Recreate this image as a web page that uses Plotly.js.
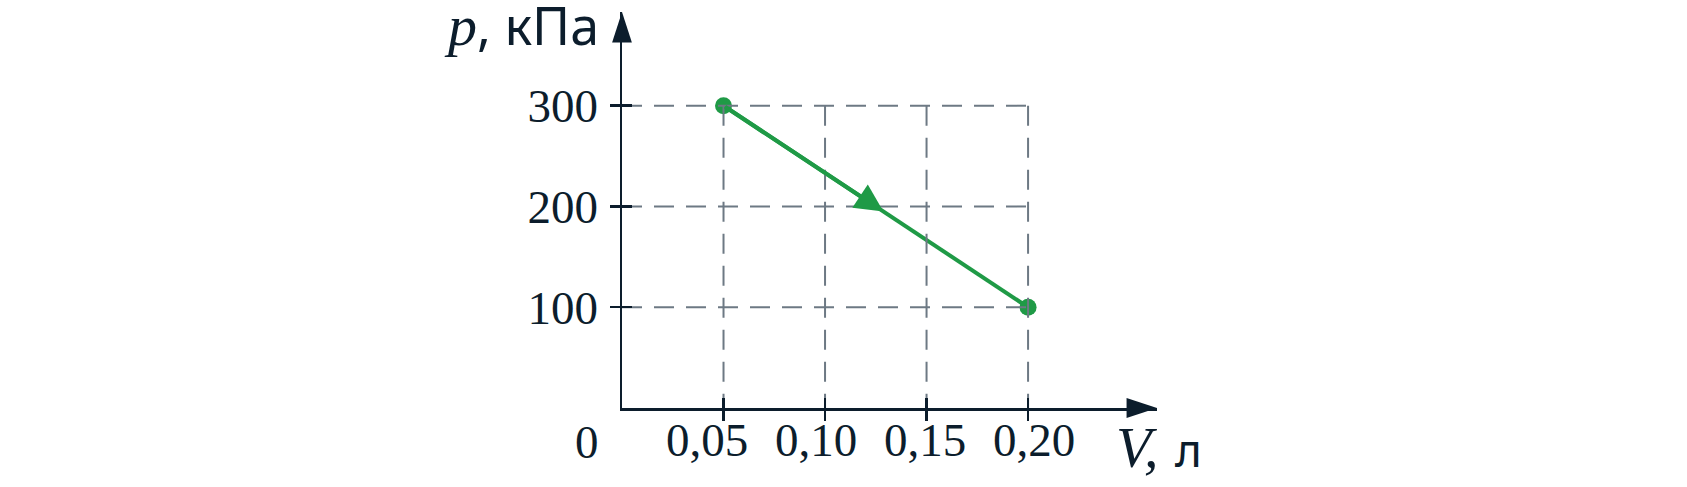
<!DOCTYPE html>
<html>
<head>
<meta charset="utf-8">
<script src="https://cdn.plot.ly/plotly-3.0.1.min.js"></script>
<style>html,body{margin:0;padding:0;background:#fff;}#chart{width:1687px;height:487px;}</style>
</head>
<body>
<div id="chart"></div>
<script>
// ---- data ----
const volume = [0.05, 0.20];          // V, л
const pressure = [300, 100];          // p, кПа
const xTicks = [0.05, 0.10, 0.15, 0.20];
const xTickLabels = ['0,05', '0,10', '0,15', '0,20'];
const yTicks = [100, 200, 300];
const yTickLabels = ['100', '200', '300'];
const originLabel = '0';
const xTitle = '<i>V,</i> л';
const yTitle = '<i>p</i>, кПа';

// ---- style ----
const dark = '#0c1d2c';
const gridColor = '#6d7984';
const green = '#1f9a46';
const serif = 'Liberation Serif, Times New Roman, serif';
const sans = 'Noto Sans, Open Sans, sans-serif';
const xMax = 0.2635, yMax = 393;
const labelRange = [0.011, 0.2564];   // tick labels are spread slightly wider than the ticks
const arrowAt = 0.525;

// grid lines built from tick arrays
const gx = [], gy = [];
const gxMax = Math.max(...xTicks), gyMax = Math.max(...yTicks);
yTicks.forEach(v => { gx.push(0, gxMax, null); gy.push(v, v, null); });
xTicks.forEach(v => { gx.push(v, v, null); gy.push(gyMax, 0, null); });

const traces = [
  {x: gx, y: gy, xaxis: 'x2', yaxis: 'y2', mode: 'lines', hoverinfo: 'skip',
   line: {color: gridColor, width: 2, dash: '20px,12px'}},
  {x: [xTicks[0]], y: [0], xaxis: 'x3', yaxis: 'y', mode: 'markers', hoverinfo: 'skip',
   marker: {opacity: 0}},
  {x: volume, y: pressure, mode: 'lines+markers', cliponaxis: false,
   line: {color: green, width: 4}, marker: {color: green, size: 17}},
  {x: [xMax, 0], y: [0, yMax], mode: 'markers', cliponaxis: false, hoverinfo: 'skip',
   marker: {symbol: 'arrow', angle: [90, 0], size: 32, color: dark}}
];

const tipX = volume[0] + arrowAt * (volume[1] - volume[0]);
const tipY = pressure[0] + arrowAt * (pressure[1] - pressure[0]);

const axBase = {showgrid: false, zeroline: false, fixedrange: true};
const tickFont = {family: serif, size: 47, color: dark};
const layout = {
  width: 1687, height: 487,
  margin: {l: 622, r: 530, t: 12, b: 79},
  paper_bgcolor: '#fff', plot_bgcolor: 'rgba(0,0,0,0)',
  showlegend: false,
  xaxis: Object.assign({}, axBase, {range: [0, xMax], showline: true, linecolor: dark, linewidth: 2.5,
    ticks: 'outside', ticklen: 10, tickwidth: 2.5, tickcolor: dark,
    tickvals: xTicks, showticklabels: false}),
  xaxis3: Object.assign({}, axBase, {range: labelRange, overlaying: 'x', anchor: 'y', side: 'bottom',
    showline: false, ticks: 'outside', ticklen: 10, tickwidth: 0, tickcolor: 'rgba(0,0,0,0)',
    tickvals: xTicks, ticktext: xTickLabels, ticklabelstandoff: -19, tickfont: tickFont}),
  yaxis: Object.assign({}, axBase, {range: [0, yMax], showline: true, linecolor: dark, linewidth: 2.5,
    ticks: 'outside', ticklen: 10, tickwidth: 2.5, tickcolor: dark,
    tickvals: yTicks, ticktext: yTickLabels, ticklabelstandoff: 2, tickfont: tickFont}),
  xaxis2: Object.assign({}, axBase, {range: [0, xMax], overlaying: 'x', anchor: 'y2', side: 'bottom',
    ticks: 'inside', ticklen: 10, tickwidth: 2.5, tickcolor: dark, tickvals: xTicks, showticklabels: false}),
  yaxis2: Object.assign({}, axBase, {range: [0, yMax], overlaying: 'y', anchor: 'x2', side: 'left',
    ticks: 'inside', ticklen: 10, tickwidth: 2.5, tickcolor: dark, tickvals: yTicks, showticklabels: false}),
  annotations: [
    {x: tipX, y: tipY, ax: volume[0], ay: pressure[0], xref: 'x', yref: 'y', axref: 'x', ayref: 'y',
     text: '', showarrow: true, arrowhead: 2, arrowsize: 1.4, arrowwidth: 4, arrowcolor: green},
    {xref: 'paper', yref: 'paper', x: -0.04, y: 0.968, xanchor: 'right', yanchor: 'middle', showarrow: false,
     text: yTitle.replace('<i>p</i>', '<span style="font-family:' + serif + ';font-size:58px"><i>p</i></span>').replace(', ', ',  \u2006'),
     font: {family: sans, size: 52, color: dark}},
    {xref: 'paper', yref: 'paper', x: 0.919, y: -0.0985, xanchor: 'left', yanchor: 'middle', showarrow: false,
     text: xTitle.replace('<i>V,</i>', '<span style="font-family:' + serif + ';font-size:58px"><i>V,</i></span>').replace(' л', ' \u200Aл'),
     font: {family: sans, size: 46, color: dark}},
    {xref: 'paper', yref: 'paper', x: -0.0654, y: -0.086, xanchor: 'center', yanchor: 'middle', showarrow: false,
     text: originLabel, font: tickFont}
  ]
};

Plotly.newPlot('chart', traces, layout, {staticPlot: true, displayModeBar: false});
</script>
</body>
</html>
